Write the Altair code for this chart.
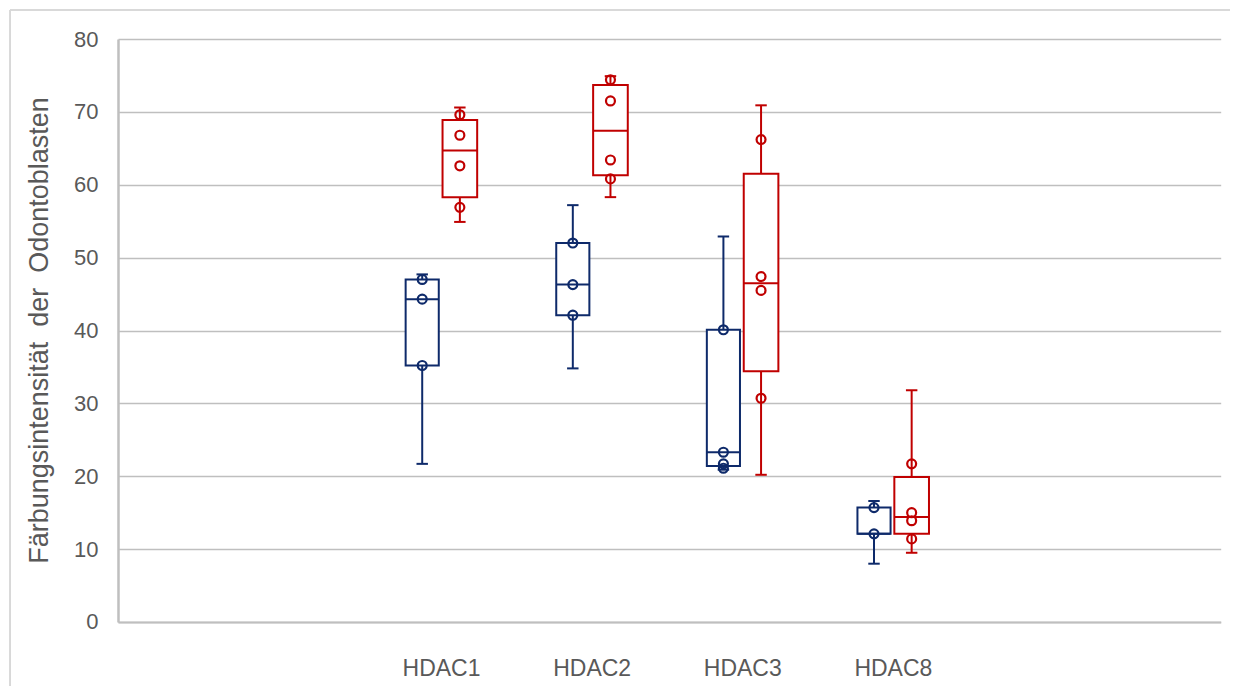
import altair as alt
import pandas as pd

# ---- data ----
genes = ["HDAC1", "HDAC2", "HDAC3", "HDAC8"]
series = ["A", "B"]  # A = dark blue, B = red

blue_min = [21.7, 34.8, 20.9, 8.0]
blue_q1 = [35.2, 42.1, 21.4, 12.1]
blue_med = [44.3, 46.3, 23.3, 12.1]
blue_q3 = [47.0, 52.0, 40.1, 15.7]
blue_max = [47.7, 57.2, 52.9, 16.6]
blue_pts = [[47.0, 44.3, 35.2], [52.0, 46.3, 42.1], [40.1, 23.3, 21.7, 21.1], [15.7, 12.1]]

red_min = [54.9, 58.3, 20.2, 9.5]
red_q1 = [58.3, 61.3, 34.4, 12.1]
red_med = [64.7, 67.4, 46.5, 14.4]
red_q3 = [68.9, 73.7, 61.5, 19.9]
red_max = [70.6, 74.9, 70.9, 31.8]
red_pts = [[69.6, 66.8, 62.6, 56.9], [74.4, 71.5, 63.4, 60.8], [66.2, 47.4, 45.5, 30.7], [21.7, 15.0, 13.9, 11.4]]

y_ticks = [0, 10, 20, 30, 40, 50, 60, 70, 80]

BLUE = "#0e2a6a"
RED = "#c00000"
GRID = "#bfbfbf"
TXT = "#595959"
FONT = "Liberation Sans"

# ---- build tables ----
rows = []
pts = []
for si, (mn, q1, md, q3, mx, pp) in enumerate([
    (blue_min, blue_q1, blue_med, blue_q3, blue_max, blue_pts),
    (red_min, red_q1, red_med, red_q3, red_max, red_pts),
]):
    for gi, g in enumerate(genes):
        rows.append(dict(gene=g, gi=gi, s=series[si], si=si,
                         mn=mn[gi], q1=q1[gi], med=md[gi], q3=q3[gi], mx=mx[gi]))
        for v in pp[gi]:
            pts.append(dict(gene=g, gi=gi, s=series[si], si=si, v=v))
box_df = pd.DataFrame(rows)
pt_df = pd.DataFrame(pts)

xscale = alt.Scale(domain=[-2.145, 5.177], nice=False, zero=False)
yscale = alt.Scale(domain=[0, 80], nice=False)
cscale = alt.Scale(domain=series, range=[BLUE, RED])

base = alt.Chart(box_df).transform_calculate(
    xc="datum.gi + (datum.si == 0 ? -0.125 : 0.125)",
    xl="datum.gi + (datum.si == 0 ? -0.235 : 0.010)",
    xr="datum.gi + (datum.si == 0 ? -0.015 : 0.240)",
    cl="datum.gi + (datum.si == 0 ? -0.125 : 0.125) - 0.038",
    cr="datum.gi + (datum.si == 0 ? -0.125 : 0.125) + 0.038",
)

x_axis = alt.Axis(
    values=[0, 1, 2, 3],
    labelExpr="['HDAC1','HDAC2','HDAC3','HDAC8'][datum.value]",
    grid=False, ticks=False, title=None,
    domainColor=GRID, domainWidth=2,
    labelFont=FONT, labelFontSize=23, labelColor=TXT, labelPadding=36,
)
y_axis = alt.Axis(
    values=y_ticks, grid=True, gridColor=GRID, gridWidth=1.3,
    ticks=False, domainColor=GRID, domainWidth=2.5,
    labelFont=FONT, labelFontSize=22, labelColor=TXT, labelPadding=20,
    title="Färbungsintensität\u00a0\u00a0der\u00a0\u00a0Odontoblasten",
    titleFont=FONT, titleFontSize=27, titleFontWeight="normal", titleColor=TXT,
    titleX=-78, titleY=291, titleBaseline="middle", titleAngle=270,
)

axes = alt.Chart(box_df).mark_point(opacity=0).encode(
    x=alt.X("gi:Q", scale=xscale, axis=x_axis),
    y=alt.Y("med:Q", scale=yscale, axis=y_axis),
)

whisk_lo = base.mark_rule(strokeWidth=2).encode(
    x=alt.X("xc:Q", scale=xscale), y=alt.Y("mn:Q", scale=yscale), y2="q1:Q",
    color=alt.Color("s:N", scale=cscale, legend=None),
)
whisk_hi = base.mark_rule(strokeWidth=2).encode(
    x=alt.X("xc:Q", scale=xscale), y=alt.Y("q3:Q", scale=yscale), y2="mx:Q",
    color=alt.Color("s:N", scale=cscale, legend=None),
)
cap_lo = base.mark_rule(strokeWidth=2).encode(
    x=alt.X("cl:Q", scale=xscale), x2="cr:Q", y=alt.Y("mn:Q", scale=yscale),
    color=alt.Color("s:N", scale=cscale, legend=None),
)
cap_hi = base.mark_rule(strokeWidth=2).encode(
    x=alt.X("cl:Q", scale=xscale), x2="cr:Q", y=alt.Y("mx:Q", scale=yscale),
    color=alt.Color("s:N", scale=cscale, legend=None),
)
boxes = base.mark_rect(fill="white", strokeWidth=2).encode(
    x=alt.X("xl:Q", scale=xscale), x2="xr:Q",
    y=alt.Y("q1:Q", scale=yscale), y2="q3:Q",
    stroke=alt.Stroke("s:N", scale=cscale, legend=None),
)
medians = base.mark_rule(strokeWidth=2).encode(
    x=alt.X("xl:Q", scale=xscale), x2="xr:Q", y=alt.Y("med:Q", scale=yscale),
    color=alt.Color("s:N", scale=cscale, legend=None),
)
points = alt.Chart(pt_df).transform_calculate(
    xc="datum.gi + (datum.si == 0 ? -0.125 : 0.125)",
).mark_point(shape="circle", filled=False, size=80, strokeWidth=2.2, opacity=1).encode(
    x=alt.X("xc:Q", scale=xscale), y=alt.Y("v:Q", scale=yscale),
    color=alt.Color("s:N", scale=cscale, legend=None),
)

frame_left = alt.Chart(box_df).mark_rule(color="#d9d9d9", strokeWidth=1).encode(
    x=alt.value(-108), y=alt.value(-29), y2=alt.value(700),
)
frame_top = alt.Chart(box_df).mark_rule(color="#d9d9d9", strokeWidth=1).encode(
    x=alt.value(-108), x2=alt.value(1200), y=alt.value(-29),
)

chart = alt.layer(
    frame_left, frame_top, axes, whisk_lo, whisk_hi, cap_lo, cap_hi, boxes, medians, points
).properties(
    width=1102.7, height=583,
    autosize=alt.AutoSizeParams(type="none"),
    padding={"left": 110, "top": 31, "right": 9, "bottom": 64},
).configure_view(stroke=None)

chart.save("out.html", embed_options={"renderer": "svg", "actions": False})
